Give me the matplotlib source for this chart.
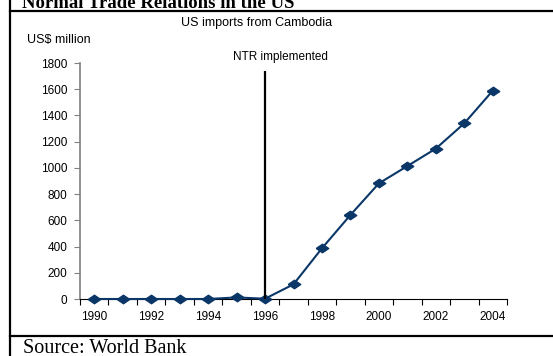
import matplotlib
matplotlib.use('Agg')
import matplotlib.pyplot as plt
from matplotlib.lines import Line2D
import numpy as np

# US imports from Cambodia, US$ million
anni = [1990, 1991, 1992, 1993, 1994, 1995, 1996, 1997, 1998, 1999,
        2000, 2001, 2002, 2003, 2004]
import_usa = [0, 0, 0, 0, 0, 12, 2, 112, 387, 641, 882, 1014, 1147, 1340, 1589]
etichette_x = ['1990', '1992', '1994', '1996', '1998', '2000', '2002', '2004']
tick_y = [0, 200, 400, 600, 800, 1000, 1200, 1400, 1600, 1800]
anno_ntr = 1996
cima_ntr = 1740

blu = '#0b3768'
sans = 'Liberation Sans'
serif = 'Liberation Serif'

fig = plt.figure(figsize=(5.53, 3.56), dpi=100)

# cornice del documento
fig.add_artist(Line2D([9.5/553, 9.5/553], [0, 1], color='black', lw=1.6))
fig.add_artist(Line2D([9.5/553, 1], [1-10.5/356, 1-10.5/356], color='black', lw=1.6))
fig.add_artist(Line2D([9.5/553, 1], [1-336/356, 1-336/356], color='black', lw=1.6))

fig.text(22/553, 1-7.5/356, 'Normal Trade Relations in the US', family=serif,
         weight='bold', fontsize=13.5, ha='left', va='baseline')
fig.text(23/553, 1-353/356, 'Source: World Bank', family=serif,
         fontsize=14.5, ha='left', va='baseline')

ax = fig.add_axes([80/553, 1-299/356, 427/553, 236/356])

x = np.arange(len(anni))
rombo = [(-1, 0), (0, 0.68), (1, 0), (0, -0.68), (-1, 0)]
ax.plot(x, import_usa, color=blu, lw=1.5, marker=rombo, markersize=9,
        markerfacecolor=blu, markeredgecolor=blu, clip_on=False, zorder=3)

i_ntr = anni.index(anno_ntr)
ax.vlines(i_ntr, 0, cima_ntr, color='black', lw=1.6, zorder=4)
ax.text(i_ntr + 0.55, 1800, 'NTR implemented', family=sans, fontsize=8.5,
        ha='center', va='bottom')

ax.set_xlim(-0.5, len(anni) - 0.5)
ax.set_ylim(0, 1800)

ax.set_xticks([anni.index(int(e)) for e in etichette_x])
ax.set_xticklabels(etichette_x, family=sans, fontsize=8.5)
ax.set_xticks(np.arange(len(anni) + 1) - 0.5, minor=True)
ax.tick_params(axis='x', which='major', length=0, pad=9)
ax.tick_params(axis='x', which='minor', length=4, width=0.8, color='black')

ax.set_yticks(tick_y)
ax.set_yticklabels([str(v) for v in tick_y], family=sans, fontsize=8.5)
ax.tick_params(axis='y', length=4, width=0.8, color='#808080', pad=5)

for lato in ['top', 'right']:
    ax.spines[lato].set_visible(False)
ax.spines['left'].set_color('#808080')
ax.spines['left'].set_linewidth(1.2)
ax.spines['bottom'].set_color('black')
ax.spines['bottom'].set_linewidth(0.8)

fig.text(257/553, 1-23/356, 'US imports from Cambodia', family=sans,
         fontsize=9, ha='center', va='center')
fig.text(27/553, 1-40/356, 'US$ million', family=sans, fontsize=9,
         ha='left', va='center')

plt.savefig('out.png', dpi=100)
